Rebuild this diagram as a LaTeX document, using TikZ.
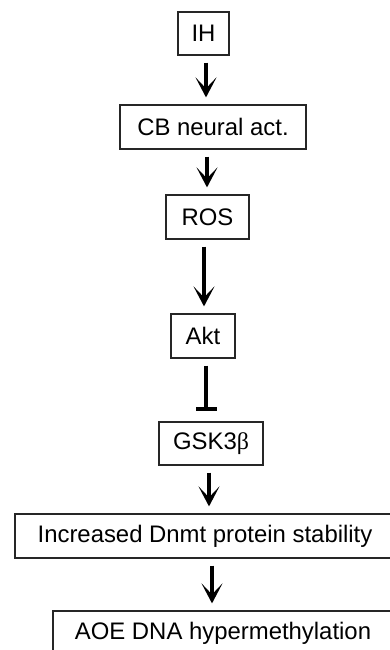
\documentclass[tikz,border=0pt]{standalone}
\usepackage{fontspec}
\setmainfont{Liberation Sans}
\newfontfamily\grkfont{Liberation Serif}
\usetikzlibrary{arrows.meta}

\tikzset{
  stage/.style={draw=black!85, line width=1.2pt, inner sep=0pt,
    font=\fontsize{23.9}{28}\selectfont, text=black},
  promote/.style={line width=4.2pt, shorten <=7pt, shorten >=7pt,
    -{Stealth[length=20pt, width=21pt, inset=11pt, line width=1.4pt]}},
  inhibit/.style={line width=4.2pt, shorten <=7pt, shorten >=10pt,
    -{Bar[width=21pt, line width=4.2pt]}}
}

\begin{document}
\begin{tikzpicture}[x=1pt, y=-1pt]
  \useasboundingbox (0,0) rectangle (390,650);
  \clip (0,0) rectangle (390,650);

  % pathway steps
  \node[stage, minimum width=51pt,  minimum height=43pt] (ih)   at (203.5,33.5) {IH};
  \node[stage, minimum width=186pt, minimum height=44pt] (cb)   at (213,127)    {CB neural act.};
  \node[stage, minimum width=83pt,  minimum height=44pt] (ros)  at (207.5,217)  {ROS};
  \node[stage, minimum width=64pt,  minimum height=44pt] (akt)  at (203,336)    {Akt};
  \node[stage, minimum width=104pt, minimum height=43pt] (gsk)  at (211,443.5)  {GSK3{\grkfont β}};
  \node[stage, minimum width=380pt, minimum height=44pt] (dnmt) at (205,536)    {Increased Dnmt protein stability};
  \node[stage, minimum width=340pt, minimum height=44pt] (aoe)  at (223,633)    {AOE DNA hypermethylation};

  % activating and inhibiting links
  \draw[promote] ([xshift=2.5pt]ih.south)   -- ([xshift=2.5pt]ih.south |- cb.north);
  \draw[promote] ([xshift=-6pt]cb.south)    -- ([xshift=-6pt]cb.south |- ros.north);
  \draw[promote] ([xshift=-3.5pt]ros.south) -- ([xshift=-3.5pt]ros.south |- akt.north);
  \draw[inhibit] ([xshift=3pt]akt.south)    -- ([xshift=3pt]akt.south |- gsk.north);
  \draw[promote] ([xshift=-2pt]gsk.south)   -- ([xshift=-2pt]gsk.south |- dnmt.north);
  \draw[promote] ([xshift=7pt]dnmt.south)   -- ([xshift=7pt]dnmt.south |- aoe.north);
\end{tikzpicture}
\end{document}
